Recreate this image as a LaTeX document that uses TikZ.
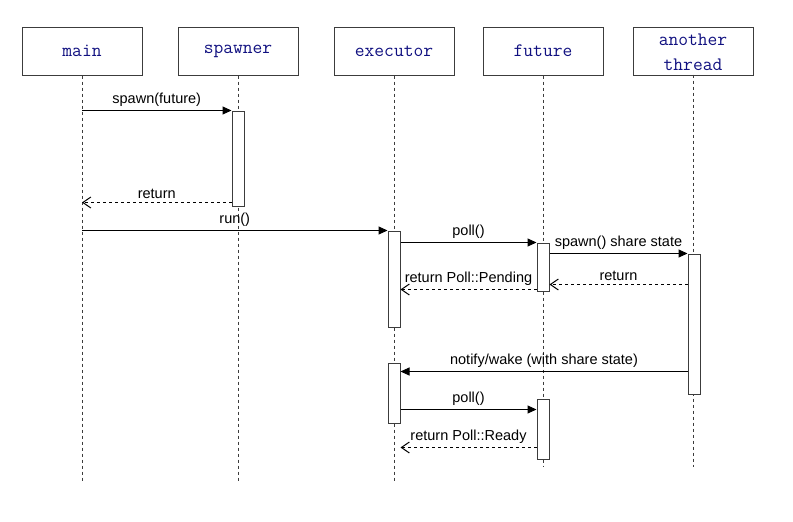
\documentclass[tikz,border=0pt]{standalone}
\usepackage{fontspec}
\setmainfont{Liberation Sans}
\usetikzlibrary{arrows.meta}
\definecolor{navy}{RGB}{16,16,128}
\definecolor{edge}{RGB}{60,60,60}
\begin{document}
\begin{tikzpicture}[x=1pt,y=-1pt,
  head/.style={draw=edge,line width=1pt,minimum width=120pt,minimum height=48pt,
    inner sep=0pt,font=\ttfamily\fontsize{19}{25}\selectfont,text=navy},
  headtxt/.style={fill=white,inner xsep=1pt,inner ysep=4pt,align=center,
    font=\ttfamily\fontsize{19}{25}\selectfont,text=navy},
  life/.style={draw=edge,line width=1pt,dash pattern=on 3pt off 3pt},
  act/.style={draw=edge,fill=white,line width=1pt,minimum width=12pt,inner sep=0pt},
  msg/.style={draw=black,line width=1pt,-{Triangle[length=9pt,width=8pt]}},
  ret/.style={draw=black,line width=1pt,dash pattern=on 3pt off 3pt,
    -{Straight Barb[length=8pt,width=11pt]}},
  lbl/.style={above,inner sep=3.5pt,font=\fontsize{14.5}{17}\selectfont,text=black}
]
\useasboundingbox (0,0) rectangle (793,522);

% headers
\node[head] (hmain) at (82,51) {main};
\node[head] (hspawn) at (238,51) {spawner};
\node[head] (hexec) at (394,51) {executor};
\node[head] (hfut) at (543,51) {future};
\node[head] (hthr) at (693,51) {};
\node[headtxt] (thrtxt) at (693,52) {another\\thread};

% lifeline ends
\coordinate (emain) at (82,481);
\coordinate (espawn) at (238,481);
\coordinate (eexec) at (394,481);
\coordinate (efut) at (543,467);
\coordinate (ethr) at (693,467);

\draw[life] (hmain.south) -- (emain);
\draw[life] (hspawn.south) -- (espawn);
\draw[life] (hexec.south) -- (eexec);
\draw[life] (hfut.south) -- (efut);
\draw[life] (thrtxt.south) -- (ethr);

% activations
\node[act,minimum height=95pt] (aspawn) at (238,158.5) {};
\node[act,minimum height=96pt] (ae1) at (394,279) {};
\node[act,minimum height=48pt] (af1) at (543,267) {};
\node[act,minimum height=140pt] (at) at (694,324) {};
\node[act,minimum height=60pt] (ae2) at (394,393) {};
\node[act,minimum height=60pt] (af2) at (543,429) {};

% messages
\draw[msg] (hmain |- aspawn.north) -- node[lbl]{spawn(future)} (aspawn.north west);

\coordinate (r1) at ([yshift=4pt]aspawn.south west);
\draw[ret] (r1) -- node[lbl]{return} (hmain |- r1);

\draw[msg] (hmain |- ae1.north) -- node[lbl]{run()} (ae1.north west);

\draw[msg] (ae1.east |- af1.north) -- node[lbl]{poll()} (af1.north west);

\draw[msg] (af1.east |- at.north) -- node[lbl]{spawn() share state} (at.north west);

\coordinate (r2) at ([yshift=7pt]af1.south east);
\draw[ret] (at.west |- r2) -- node[lbl]{return} (r2);

\coordinate (r3) at ([yshift=2pt]af1.south west);
\draw[ret] (r3) -- node[lbl]{return Poll::Pending} (ae1.east |- r3);

\coordinate (r4) at ([yshift=-9pt]ae2.north east);
\draw[msg] (at.west |- r4) -- node[lbl]{notify/wake (with share state)} (r4);

\coordinate (r5) at ([yshift=-11pt]af2.north west);
\draw[msg] (ae2.east |- r5) -- node[lbl]{poll()} (r5);

\coordinate (r6) at ([yshift=12pt]af2.south west);
\draw[ret] (r6) -- node[lbl]{return Poll::Ready} (ae2.east |- r6);
\end{tikzpicture}
\end{document}
